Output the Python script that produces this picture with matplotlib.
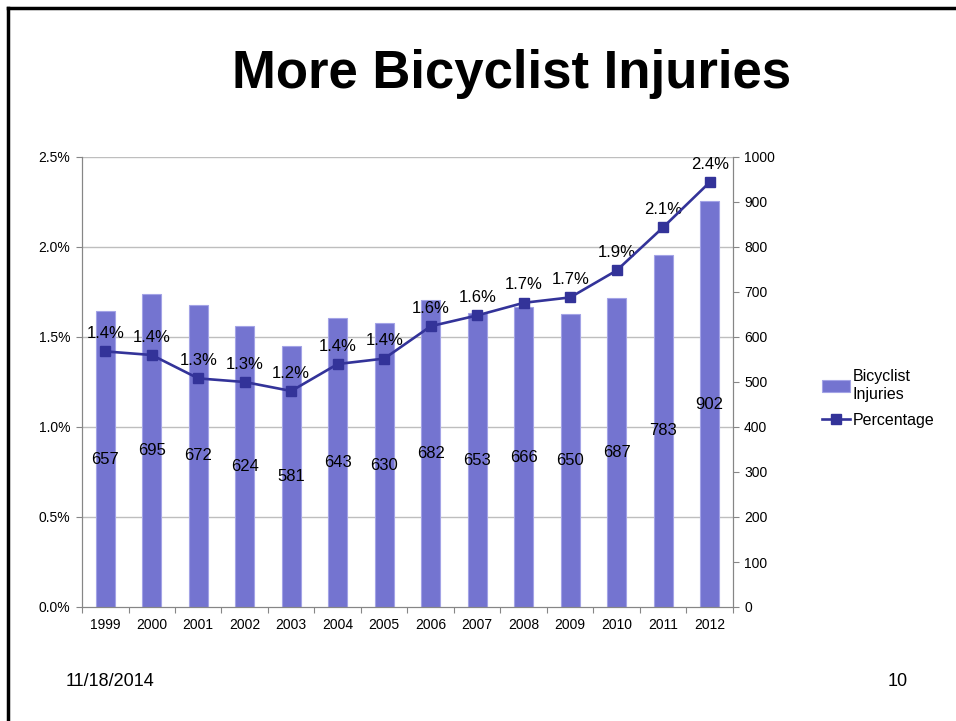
import matplotlib
matplotlib.use('Agg')
import matplotlib.pyplot as plt
import numpy as np
from matplotlib.lines import Line2D

plt.rcParams['font.family'] = ['Liberation Sans', 'DejaVu Sans']

years = ['1999', '2000', '2001', '2002', '2003', '2004', '2005',
         '2006', '2007', '2008', '2009', '2010', '2011', '2012']
injuries = [657, 695, 672, 624, 581, 643, 630, 682, 653, 666, 650, 687, 783, 902]
percentage = [1.42, 1.40, 1.27, 1.25, 1.20, 1.35, 1.38, 1.56, 1.62, 1.69, 1.72, 1.87, 2.11, 2.36]
pct_labels = ['1.4%', '1.4%', '1.3%', '1.3%', '1.2%', '1.4%', '1.4%',
              '1.6%', '1.6%', '1.7%', '1.7%', '1.9%', '2.1%', '2.4%']

bar_color = '#7474D0'
line_color = '#333399'
axis_gray = '#868686'
grid_gray = '#BEBEBE'

fig = plt.figure(figsize=(9.56, 7.21), dpi=100)

# slide frame (top and left edges visible)
fig.add_artist(Line2D([8/956, 1], [1 - 8/721, 1 - 8/721], color='black', lw=2.5))
fig.add_artist(Line2D([8/956, 8/956], [0, 1 - 8/721], color='black', lw=2.5))

fig.text(0.535, 1 - 88/721, 'More Bicyclist Injuries', ha='center', va='baseline',
         fontsize=38, fontweight='bold')
fig.text(66/956, 1 - 686/721, '11/18/2014', ha='left', va='baseline', fontsize=13)
fig.text(908/956, 1 - 686/721, '10', ha='right', va='baseline', fontsize=13)

ax = fig.add_axes([82/956, 1 - 607/721, 651/956, 450/721])
axr = ax.twinx()

x = np.arange(len(years))

# bars on the right axis
axr.set_ylim(0, 1000)
for g in range(200, 1001, 200):
    axr.axhline(g, color=grid_gray, lw=1, zorder=0)
bars = axr.bar(x, injuries, width=0.41, color=bar_color, edgecolor='#A3A3E6',
               linewidth=0.8, zorder=2)
for xi, v in zip(x, injuries):
    axr.text(xi, v / 2, str(v), ha='center', va='center', fontsize=12, zorder=3)
axr.set_yticks(range(0, 1001, 100))
axr.tick_params(axis='y', direction='out', length=4, color=axis_gray, labelsize=10, pad=4)

# percentage line on top
ax.set_zorder(axr.get_zorder() + 1)
ax.patch.set_visible(False)
ax.plot(x, percentage, color=line_color, lw=1.9, marker='s', markersize=6.5,
        label='Percentage', zorder=4)
for xi, p, lab in zip(x, percentage, pct_labels):
    ax.annotate(lab, (xi, p), xytext=(0, 7.5), textcoords='offset points',
                ha='center', va='bottom', fontsize=12)
ax.set_ylim(0, 2.5)
ax.set_yticks(np.arange(0, 2.51, 0.5))
ax.set_yticklabels(['%.1f%%' % t for t in np.arange(0, 2.51, 0.5)])
ax.tick_params(axis='y', direction='out', length=4, color=axis_gray, labelsize=10, pad=4.5)

ax.set_xlim(-0.5, len(years) - 0.5)
ax.set_xticks(np.arange(-0.5, len(years), 1.0))
ax.set_xticklabels([])
ax.set_xticks(x, minor=True)
ax.set_xticklabels(years, minor=True)
ax.tick_params(axis='x', which='major', direction='out', length=4, color=axis_gray)
ax.tick_params(axis='x', which='minor', length=0, labelsize=10, pad=8)

for a in (ax, axr):
    a.spines['top'].set_visible(False)
    for s in ('left', 'right', 'bottom'):
        a.spines[s].set_color(axis_gray)

handles = [bars, ax.get_lines()[0]]
fig.legend(handles, ['Bicyclist\nInjuries', 'Percentage'], loc='upper left',
           bbox_to_anchor=(808/956, 1 - 355/721), frameon=False, fontsize=11.5,
           handlelength=1.7, handletextpad=0.2, labelspacing=0.7)

fig.savefig('out.png', dpi=100)
